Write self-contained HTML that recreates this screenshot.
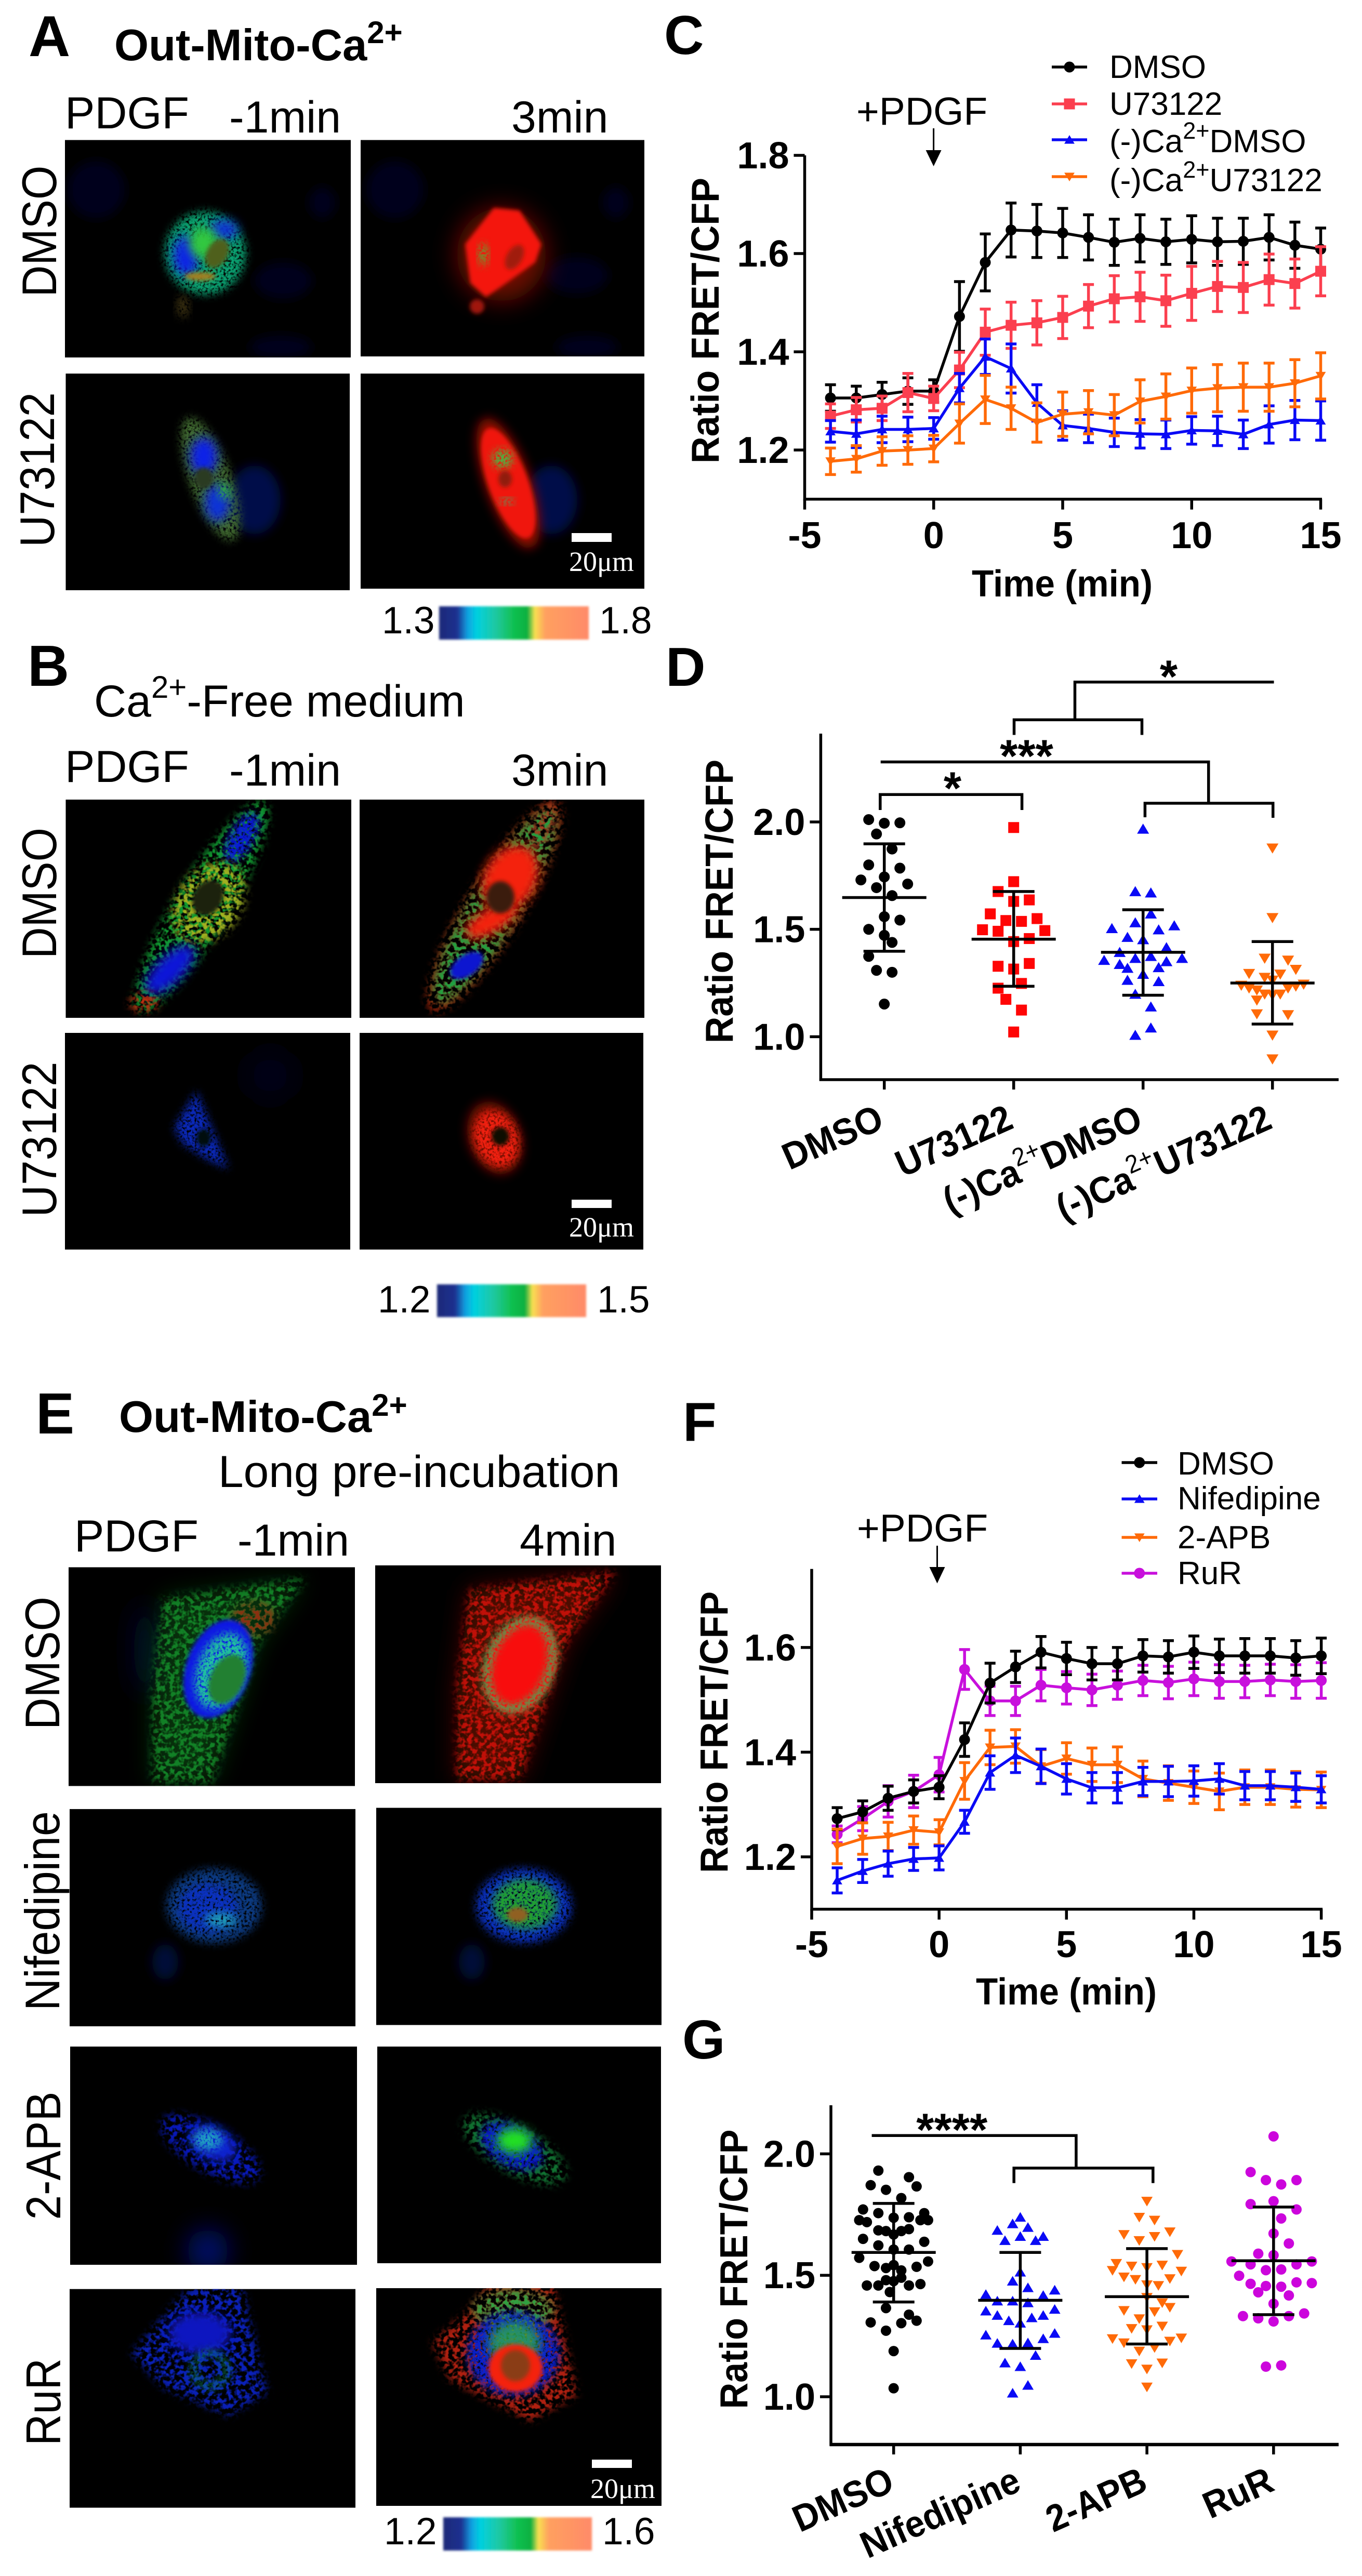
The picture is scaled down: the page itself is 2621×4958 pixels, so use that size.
<!DOCTYPE html>
<html lang="en">
<head>
<meta charset="utf-8">
<title>Out-Mito-Ca2+ FRET figure</title>
<style>
html,body{margin:0;padding:0;background:#fff}
svg#figure{display:block}
text{font-family:"Liberation Sans",sans-serif;fill:#000}
.lb{font-size:111px;font-weight:700}
.t{font-size:86px}
.rl{font-size:94px}
.tb{font-size:85px;font-weight:700}
.sb{font-family:"Liberation Serif",serif;font-size:54px;fill:#fff}
.cb{font-size:73px}
</style>
</head>
<body>
<svg id="figure" xmlns="http://www.w3.org/2000/svg" width="2621" height="4958" viewBox="0 0 2621 4958">
<defs>
<linearGradient id="cbar" x1="0" x2="1" y1="0" y2="0">
<stop offset="0" stop-color="#1c2a78"/><stop offset=".12" stop-color="#1c3090"/><stop offset=".19" stop-color="#10a0e0"/><stop offset=".25" stop-color="#00d0e0"/><stop offset=".38" stop-color="#20c8a0"/><stop offset=".5" stop-color="#10c050"/><stop offset=".59" stop-color="#10b040"/><stop offset=".64" stop-color="#f8e050"/><stop offset=".71" stop-color="#ffa060"/><stop offset="1" stop-color="#ff8a68"/>
</linearGradient>
<filter id="b2" x="-5%" y="-10%" width="110%" height="120%"><feGaussianBlur stdDeviation="2"/></filter>
<filter id="b4" x="-40%" y="-40%" width="180%" height="180%"><feGaussianBlur stdDeviation="4"/></filter>
<filter id="b10" x="-50%" y="-50%" width="200%" height="200%"><feGaussianBlur stdDeviation="10"/></filter>
<filter id="b24" x="-80%" y="-80%" width="260%" height="260%"><feGaussianBlur stdDeviation="24"/></filter>
<filter id="speck" x="-30%" y="-30%" width="160%" height="160%" color-interpolation-filters="sRGB">
<feGaussianBlur stdDeviation="8" result="b"/>
<feTurbulence type="fractalNoise" baseFrequency="0.2" numOctaves="2" seed="4" result="n"/>
<feColorMatrix in="n" type="matrix" values="0 0 0 0 0 0 0 0 0 0 0 0 0 0 0 3.4 0 0 0 -.85" result="m"/>
<feComposite in="b" in2="m" operator="in"/>
</filter>
<filter id="speck2" x="-30%" y="-30%" width="160%" height="160%" color-interpolation-filters="sRGB">
<feGaussianBlur stdDeviation="8" result="b"/>
<feTurbulence type="fractalNoise" baseFrequency="0.11" numOctaves="2" seed="11" result="n"/>
<feColorMatrix in="n" type="matrix" values="0 0 0 0 0 0 0 0 0 0 0 0 0 0 0 5 0 0 0 -2.1" result="m"/>
<feComposite in="b" in2="m" operator="in"/>
</filter>
</defs>
<rect width="2621" height="4958" fill="#fff"/>

<!-- PANEL A -->
<g>
<text class="lb" x="55" y="108">A</text>
<text class="tb" x="220" y="116">Out-Mito-Ca<tspan font-size="60" dy="-33">2+</tspan></text>
<text class="t" x="125" y="247">PDGF</text>
<text class="t" x="441" y="255">-1min</text>
<text class="t" x="984" y="255">3min</text>
<text class="rl" transform="translate(108 445) rotate(-90)" text-anchor="middle" textLength="253" lengthAdjust="spacingAndGlyphs">DMSO</text>
<text class="rl" transform="translate(104 904) rotate(-90)" text-anchor="middle" textLength="298" lengthAdjust="spacingAndGlyphs">U73122</text>

<svg x="125" y="269.5" width="550" height="418.5" viewBox="125 269.5 550 418.5">
<rect x="125" y="269.5" width="550" height="418.5" fill="#000"/>
<g filter="url(#b10)" fill="#01051e"><ellipse cx="185" cy="365" rx="55" ry="55"/><ellipse cx="620" cy="390" rx="25" ry="30"/><ellipse cx="545" cy="540" rx="55" ry="35"/><ellipse cx="540" cy="668" rx="60" ry="22"/></g>
<ellipse cx="395" cy="487" rx="78" ry="80" fill="#0aa070" filter="url(#speck)"/>
<ellipse cx="358" cy="492" rx="24" ry="38" fill="#0a20e8" filter="url(#b10)"/>
<ellipse cx="430" cy="442" rx="28" ry="18" fill="#0a30d8" filter="url(#b10)"/>
<ellipse cx="392" cy="468" rx="28" ry="30" fill="#30c840" filter="url(#b10)"/>
<ellipse cx="418" cy="488" rx="20" ry="30" transform="rotate(30 418 488)" fill="#50601c" filter="url(#b4)"/>
<ellipse cx="385" cy="532" rx="30" ry="8" fill="#a08020" filter="url(#b4)"/>
<ellipse cx="352" cy="590" rx="12" ry="22" fill="#3a3010" filter="url(#speck)"/>
</svg>
<svg x="694" y="269.5" width="546" height="416.5" viewBox="694 269.5 546 416.5">
<rect x="694" y="269.5" width="546" height="416.5" fill="#000"/>
<g filter="url(#b10)" fill="#01051e"><ellipse cx="760" cy="365" rx="55" ry="55"/><ellipse cx="1185" cy="390" rx="25" ry="30"/><ellipse cx="1110" cy="530" rx="60" ry="35"/><ellipse cx="1130" cy="668" rx="60" ry="22"/></g>
<ellipse cx="965" cy="490" rx="86" ry="90" fill="#700c06" filter="url(#b24)"/>
<polygon points="895,470 950,400 1000,405 1042,470 1030,505 960,555 935,572 905,545" fill="#f41208" filter="url(#b4)"/>
<ellipse cx="918" cy="590" rx="14" ry="14" fill="#a01808" filter="url(#b4)"/>
<ellipse cx="990" cy="495" rx="15" ry="26" transform="rotate(30 990 495)" fill="#a01c10" filter="url(#b4)"/>
<ellipse cx="930" cy="490" rx="9" ry="22" fill="#60a030" filter="url(#speck)"/>
</svg>
<svg x="126.5" y="719" width="546.5" height="417" viewBox="126.5 719 546.5 417">
<rect x="126.5" y="719" width="546.5" height="417" fill="#000"/>
<ellipse cx="490" cy="962" rx="50" ry="66" fill="#020c48" filter="url(#b10)"/>
<ellipse cx="405" cy="922" rx="40" ry="125" transform="rotate(-20 405 922)" fill="#406a30" filter="url(#speck)"/>
<ellipse cx="392" cy="878" rx="26" ry="36" fill="#0a20e8" filter="url(#b10)"/>
<ellipse cx="418" cy="968" rx="24" ry="36" fill="#0a30d8" filter="url(#b10)"/>
<ellipse cx="432" cy="945" rx="12" ry="16" fill="#30b040" filter="url(#speck)"/>
<ellipse cx="392" cy="920" rx="18" ry="20" fill="#2a3a20" filter="url(#b4)"/>
</svg>
<svg x="694" y="719" width="546" height="414" viewBox="694 719 546 414">
<rect x="694" y="719" width="546" height="414" fill="#000"/>
<ellipse cx="1061" cy="962" rx="50" ry="66" fill="#020c48" filter="url(#b10)"/>
<ellipse cx="978" cy="930" rx="44" ry="132" transform="rotate(-20 978 930)" fill="#900a05" filter="url(#b10)"/>
<ellipse cx="978" cy="930" rx="38" ry="112" transform="rotate(-20 978 930)" fill="#f01508" filter="url(#b4)"/>
<ellipse cx="967" cy="883" rx="20" ry="18" fill="#50b040" filter="url(#speck)"/>
<ellipse cx="975" cy="965" rx="14" ry="6" fill="#50a060" filter="url(#speck)"/>
<ellipse cx="972" cy="922" rx="13" ry="16" fill="#901a10" filter="url(#b4)"/>
<rect x="1100" y="1026" width="77" height="17" fill="#fff"/>
<text class="sb" x="1095" y="1099">20μm</text>
</svg>
<text class="cb" x="735" y="1219">1.3</text>
<rect x="845" y="1167" width="288" height="64" fill="url(#cbar)" filter="url(#b2)"/>
<text class="cb" x="1153" y="1219">1.8</text>
</g>

<!-- PANEL B -->
<g>
<text class="lb" x="53" y="1320">B</text>
<text class="t" x="181" y="1379">Ca<tspan font-size="60" dy="-36">2+</tspan><tspan dy="36">-Free medium</tspan></text>
<text class="t" x="125" y="1505">PDGF</text>
<text class="t" x="441" y="1512">-1min</text>
<text class="t" x="984" y="1512">3min</text>
<text class="rl" transform="translate(108 1719) rotate(-90)" text-anchor="middle" textLength="252" lengthAdjust="spacingAndGlyphs">DMSO</text>
<text class="rl" transform="translate(108 2193) rotate(-90)" text-anchor="middle" textLength="299" lengthAdjust="spacingAndGlyphs">U73122</text>

<svg x="126.5" y="1539" width="549.5" height="420" viewBox="126.5 1539 549.5 420">
<rect x="126.5" y="1539" width="549.5" height="420" fill="#000"/>
<ellipse cx="388" cy="1745" rx="52" ry="235" transform="rotate(31 388 1745)" fill="#109a30" filter="url(#speck2)"/>
<ellipse cx="327" cy="1866" rx="26" ry="62" transform="rotate(45 327 1866)" fill="#0818d8" filter="url(#b10)"/>
<ellipse cx="465" cy="1612" rx="22" ry="52" transform="rotate(30 465 1612)" fill="#0818d8" filter="url(#speck)"/>
<ellipse cx="402" cy="1738" rx="62" ry="84" transform="rotate(35 402 1738)" fill="#a0b020" filter="url(#speck2)"/>
<ellipse cx="400" cy="1728" rx="28" ry="36" transform="rotate(30 400 1728)" fill="#1c2010" filter="url(#b4)"/>
<ellipse cx="277" cy="1930" rx="28" ry="18" fill="#c03010" filter="url(#speck2)"/>
</svg>
<svg x="692" y="1539" width="548" height="420" viewBox="692 1539 548 420">
<rect x="692" y="1539" width="548" height="420" fill="#000"/>
<ellipse cx="952" cy="1745" rx="56" ry="235" transform="rotate(31 952 1745)" fill="#a02008" filter="url(#speck2)"/>
<ellipse cx="952" cy="1745" rx="48" ry="215" transform="rotate(31 952 1745)" fill="#20a040" filter="url(#speck2)"/>
<ellipse cx="982" cy="1690" rx="50" ry="68" transform="rotate(30 982 1690)" fill="#f42010" filter="url(#b10)"/>
<ellipse cx="945" cy="1772" rx="56" ry="24" transform="rotate(-30 945 1772)" fill="#f42010" filter="url(#b10)"/>
<ellipse cx="898" cy="1858" rx="20" ry="36" transform="rotate(55 898 1858)" fill="#0818d0" filter="url(#b4)"/>
<ellipse cx="963" cy="1727" rx="27" ry="31" fill="#3a1c10" filter="url(#b4)"/>
<ellipse cx="1045" cy="1590" rx="18" ry="48" transform="rotate(25 1045 1590)" fill="#a04020" filter="url(#speck2)"/>
</svg>
<svg x="125" y="1988" width="549" height="417" viewBox="125 1988 549 417">
<rect x="125" y="1988" width="549" height="417" fill="#000"/>
<ellipse cx="520" cy="2070" rx="50" ry="50" fill="#010418" filter="url(#b24)"/>
<polygon points="335,2170 378,2100 440,2250 400,2232 350,2200" fill="#0a28b8" filter="url(#speck)"/>
<ellipse cx="392" cy="2190" rx="14" ry="17" fill="#000810" filter="url(#b4)"/>
</svg>
<svg x="692" y="1988" width="546" height="417" viewBox="692 1988 546 417">
<rect x="692" y="1988" width="546" height="417" fill="#000"/>
<ellipse cx="952" cy="2190" rx="50" ry="72" transform="rotate(-20 952 2190)" fill="#700a05" filter="url(#b10)"/>
<ellipse cx="955" cy="2192" rx="42" ry="56" transform="rotate(-20 955 2192)" fill="#f02010" filter="url(#speck)"/>
<ellipse cx="963" cy="2187" rx="17" ry="18" fill="#100800" filter="url(#b4)"/>
<rect x="1100" y="2309" width="77" height="16" fill="#fff"/>
<text class="sb" x="1095" y="2380">20μm</text>
</svg>
<text class="cb" x="727" y="2526">1.2</text>
<rect x="841" y="2472" width="287" height="63" fill="url(#cbar)" filter="url(#b2)"/>
<text class="cb" x="1149" y="2526">1.5</text>
</g>

<!-- PANEL E -->
<g>
<text class="lb" x="69" y="2759">E</text>
<text class="tb" x="229" y="2756">Out-Mito-Ca<tspan font-size="60" dy="-31">2+</tspan></text>
<text class="t" x="420" y="2862" font-size="84" textLength="773" lengthAdjust="spacingAndGlyphs">Long pre-incubation</text>
<text class="t" x="143" y="2986">PDGF</text>
<text class="t" x="457" y="2994">-1min</text>
<text class="t" x="1000" y="2994">4min</text>
<text class="rl" transform="translate(114 3201) rotate(-90)" text-anchor="middle" textLength="256" lengthAdjust="spacingAndGlyphs">DMSO</text>
<text class="rl" transform="translate(114 3678) rotate(-90)" text-anchor="middle" textLength="384" lengthAdjust="spacingAndGlyphs">Nifedipine</text>
<text class="rl" transform="translate(116 4149) rotate(-90)" text-anchor="middle" textLength="247" lengthAdjust="spacingAndGlyphs">2-APB</text>
<text class="rl" transform="translate(116 4623) rotate(-90)" text-anchor="middle" textLength="168" lengthAdjust="spacingAndGlyphs">RuR</text>

<svg x="132" y="3016.5" width="551" height="421" viewBox="132 3016.5 551 421">
<rect x="132" y="3016.5" width="551" height="421" fill="#000"/>
<ellipse cx="278" cy="3175" rx="22" ry="90" fill="#010a2c" filter="url(#b24)"/>
<polygon points="314,3076 588,3038 498,3160 408,3430 294,3430 294,3252" fill="#0c5a18" filter="url(#b24)" opacity=".55"/>
<polygon points="314,3076 588,3038 498,3160 408,3430 294,3430 294,3252" fill="#128026" filter="url(#speck2)"/>
<ellipse cx="488" cy="3115" rx="42" ry="32" fill="#8a3010" filter="url(#speck2)"/>
<ellipse cx="420" cy="3212" rx="62" ry="98" transform="rotate(20 420 3212)" fill="#0818e4" filter="url(#b4)"/>
<ellipse cx="426" cy="3216" rx="47" ry="76" transform="rotate(20 426 3216)" fill="#20c0a0" filter="url(#speck)"/>
<ellipse cx="437" cy="3232" rx="32" ry="50" transform="rotate(25 437 3232)" fill="#208030" filter="url(#b4)"/>
</svg>
<svg x="722" y="3012.7" width="550" height="419.3" viewBox="722 3012.7 550 419.3">
<rect x="722" y="3012.7" width="550" height="419.3" fill="#000"/>
<polygon points="904,3060 1185,3025 1090,3160 1000,3425 880,3425 880,3250" fill="#500805" filter="url(#b24)"/>
<polygon points="904,3060 1185,3025 1090,3160 1000,3425 880,3425 880,3250" fill="#c01008" filter="url(#speck2)"/>
<ellipse cx="1002" cy="3205" rx="66" ry="96" transform="rotate(20 1002 3205)" fill="#f81008" filter="url(#b4)"/>
<ellipse cx="1000" cy="3204" rx="60" ry="88" transform="rotate(20 1000 3204)" fill="none" stroke="#30c060" stroke-width="14" filter="url(#speck)"/>
</svg>
<svg x="134" y="3481.8" width="550" height="418.2" viewBox="134 3481.8 550 418.2">
<rect x="134" y="3481.8" width="550" height="418.2" fill="#000"/>
<ellipse cx="412" cy="3668" rx="92" ry="72" fill="#0c3a80" filter="url(#speck)"/>
<ellipse cx="400" cy="3672" rx="56" ry="46" fill="#0a30c0" filter="url(#speck)"/>
<ellipse cx="425" cy="3695" rx="30" ry="14" fill="#20a0b0" filter="url(#speck)"/>
<ellipse cx="318" cy="3776" rx="25" ry="34" fill="#010a38" filter="url(#b10)"/>
</svg>
<svg x="724" y="3479.5" width="549" height="418" viewBox="724 3479.5 549 418">
<rect x="724" y="3479.5" width="549" height="418" fill="#000"/>
<ellipse cx="1008" cy="3668" rx="92" ry="72" fill="#0a30c0" filter="url(#speck)"/>
<ellipse cx="1010" cy="3665" rx="62" ry="48" fill="#20a030" filter="url(#speck)"/>
<ellipse cx="996" cy="3685" rx="20" ry="14" fill="#906020" filter="url(#b4)"/>
<ellipse cx="908" cy="3776" rx="25" ry="34" fill="#010a38" filter="url(#b10)"/>
</svg>
<svg x="135" y="3939" width="552" height="420" viewBox="135 3939 552 420">
<rect x="135" y="3939" width="552" height="420" fill="#000"/>
<ellipse cx="400" cy="4332" rx="40" ry="42" fill="#00106a" filter="url(#b24)"/>
<ellipse cx="405" cy="4136" rx="108" ry="44" transform="rotate(30 405 4136)" fill="#0818b8" filter="url(#speck2)"/>
<ellipse cx="410" cy="4125" rx="48" ry="30" transform="rotate(30 410 4125)" fill="#0a20d0" filter="url(#b10)"/>
<ellipse cx="400" cy="4118" rx="28" ry="20" fill="#20a0c0" filter="url(#speck)"/>
</svg>
<svg x="726" y="3939" width="546" height="417" viewBox="726 3939 546 417">
<rect x="726" y="3939" width="546" height="417" fill="#000"/>
<ellipse cx="990" cy="4136" rx="112" ry="46" transform="rotate(30 990 4136)" fill="#107030" filter="url(#speck2)"/>
<ellipse cx="985" cy="4130" rx="64" ry="38" transform="rotate(30 985 4130)" fill="#0818d0" filter="url(#speck)"/>
<ellipse cx="990" cy="4120" rx="34" ry="24" fill="#20e020" filter="url(#b10)"/>
</svg>
<svg x="134" y="4405.6" width="550" height="421" viewBox="134 4405.6 550 421">
<rect x="134" y="4405.6" width="550" height="421" fill="#000"/>
<polygon points="253,4530 340,4430 370,4400 465,4400 514,4605 440,4650 318,4598" fill="#0a20b8" filter="url(#speck2)"/>
<ellipse cx="385" cy="4490" rx="60" ry="40" fill="#0a18c0" filter="url(#b10)"/>
<ellipse cx="404" cy="4561" rx="32" ry="32" fill="none" stroke="#109060" stroke-width="8" filter="url(#speck)"/>
</svg>
<svg x="724" y="4404" width="549" height="419" viewBox="724 4404 549 419">
<rect x="724" y="4404" width="549" height="419" fill="#000"/>
<polygon points="832,4508 898,4450 940,4395 1065,4395 1110,4610 1020,4660 865,4580" fill="#b02010" filter="url(#speck2)"/>
<ellipse cx="988" cy="4445" rx="78" ry="38" fill="#30a040" filter="url(#speck2)"/>
<ellipse cx="988" cy="4530" rx="88" ry="80" fill="#0820d0" filter="url(#speck)"/>
<ellipse cx="990" cy="4510" rx="50" ry="42" fill="#30c040" filter="url(#b10)" opacity=".7"/>
<ellipse cx="992" cy="4558" rx="52" ry="46" fill="#f42010" filter="url(#b4)"/>
<ellipse cx="992" cy="4553" rx="28" ry="30" fill="#8a3c18" filter="url(#b4)"/>
<rect x="1139" y="4734" width="77" height="16" fill="#fff"/>
<text class="sb" x="1136" y="4808">20μm</text>
</svg>
<text class="cb" x="739" y="4897">1.2</text>
<rect x="853" y="4845" width="286" height="64" fill="url(#cbar)" filter="url(#b2)"/>
<text class="cb" x="1159" y="4897">1.6</text>
</g>

<g id="panel-c"></g>
<g id="panel-d"></g>
<g id="panel-f"></g>
<g id="panel-g"></g>
</svg>

<script>
/* ---------- shared time axis ---------- */
const timeMinutes = [-4,-3,-2,-1,0,1,2,3,4,5,6,7,8,9,10,11,12,13,14,15];
const lineXTicks = [-5,0,5,10,15];

/* ---------- panel C data ---------- */
const cYTicks = [1.2,1.4,1.6,1.8];
const cDmsoMean = [1.306,1.306,1.313,1.320,1.320,1.472,1.582,1.648,1.646,1.642,1.633,1.623,1.631,1.624,1.629,1.624,1.625,1.633,1.617,1.609];
const cDmsoErr = [.027,.024,.025,.027,.023,.071,.058,.055,.054,.050,.046,.047,.048,.046,.048,.048,.047,.046,.047,.043];
const cU73122Mean = [1.269,1.282,1.285,1.317,1.305,1.363,1.440,1.454,1.459,1.470,1.493,1.508,1.512,1.504,1.519,1.533,1.531,1.547,1.539,1.564];
const cU73122Err = [.025,.025,.025,.039,.025,.036,.047,.047,.045,.043,.044,.047,.050,.052,.055,.051,.051,.052,.050,.050];
const cCaDmsoMean = [1.238,1.233,1.242,1.242,1.244,1.326,1.390,1.366,1.296,1.250,1.244,1.236,1.233,1.232,1.240,1.239,1.232,1.252,1.261,1.260];
const cCaDmsoErr = [.022,.028,.027,.025,.022,.030,.036,.050,.037,.030,.029,.029,.029,.029,.028,.030,.029,.038,.040,.040];
const cCaU73122Mean = [1.177,1.182,1.198,1.200,1.203,1.254,1.303,1.285,1.256,1.273,1.277,1.271,1.299,1.309,1.321,1.326,1.328,1.328,1.336,1.351];
const cCaU73122Err = [.027,.027,.029,.029,.027,.040,.049,.043,.040,.045,.044,.042,.044,.046,.046,.048,.049,.049,.048,.047];

/* ---------- panel F data ---------- */
const fYTicks = [1.2,1.4,1.6];
const fDmsoMean = [1.273,1.286,1.312,1.325,1.333,1.424,1.532,1.563,1.591,1.579,1.569,1.569,1.584,1.582,1.591,1.584,1.584,1.584,1.580,1.584];
const fDmsoErr = [.021,.021,.023,.022,.022,.032,.038,.030,.030,.031,.031,.031,.031,.031,.031,.032,.033,.033,.033,.034];
const fNifedipineMean = [1.155,1.173,1.187,1.196,1.198,1.267,1.361,1.394,1.373,1.349,1.332,1.332,1.344,1.344,1.345,1.349,1.336,1.336,1.333,1.329];
const fNifedipineErr = [.024,.022,.024,.022,.023,.022,.032,.033,.033,.029,.029,.029,.027,.029,.029,.029,.027,.027,.027,.026];
const fApbMean = [1.220,1.235,1.239,1.251,1.247,1.345,1.409,1.411,1.373,1.388,1.376,1.376,1.349,1.341,1.333,1.325,1.333,1.333,1.329,1.328];
const fApbErr = [.033,.030,.027,.027,.024,.035,.033,.032,.032,.030,.032,.034,.034,.033,.031,.035,.033,.033,.034,.034];
const fRurMean = [1.243,1.273,1.306,1.325,1.357,1.558,1.498,1.498,1.528,1.523,1.519,1.528,1.537,1.533,1.540,1.535,1.535,1.538,1.535,1.537];
const fRurErr = [.016,.023,.030,.031,.033,.038,.028,.028,.030,.031,.030,.027,.029,.031,.032,.032,.031,.030,.032,.034];

/* ---------- panel D data: each inner array is one swarm column of values ---------- */
const scatterYTicks = [1.0,1.5,2.0];
const dCategories = [['DMSO'],['U73122'],['(-)Ca','2+','DMSO'],['(-)Ca','2+','U73122']];
const dDmsoColumns = [[1.730],[2.011,1.800,1.500,1.374],[1.944,1.694,1.309],[1.994,1.744,1.559,1.472,1.152],[1.874,1.657,1.439,1.300],[1.996,1.785,1.543],[1.711]];
const dU73122Columns = [[1.498],[1.572],[1.676,1.491,1.328,1.226],[1.541,1.174],[1.974,1.722,1.630,1.443,1.315,1.022],[1.537,1.248,1.124],[1.637,1.457,1.341],[1.550],[1.494]];
const dCaDmsoColumns = [[1.356],[1.504],[1.393,1.337],[1.463,1.319,1.263],[1.676,1.531,1.365,1.198,1.007],[1.967,1.452,1.291],[1.670,1.572,1.374,1.139,1.041],[1.498,1.322,1.257],[1.415,1.350],[1.517],[1.365]];
const dCaU73122Columns = [[1.239],[1.226,1.294],[1.217,1.170,1.106],[1.365,1.276,1.198],[1.878,1.554,1.263,1.194,1.007,0.896],[1.291,1.198],[1.356,1.226,1.102],[1.313,1.235],[1.244]];
const dMeans = [1.648,1.454,1.393,1.250];
const dSdUpper = [1.898,1.676,1.591,1.443];
const dSdLower = [1.398,1.235,1.193,1.059];

/* ---------- panel G data ---------- */
const gCategories = [['DMSO'],['Nifedipine'],['2-APB'],['RuR']];
const gDmsoColumns = [[1.727,1.572],[1.771,1.650],[1.719,1.458],[1.871,1.306],[1.538],[1.931,1.756,1.685,1.623,1.458],[],[1.852,1.682,1.530,1.480,1.365,1.272],[1.431],[1.737,1.668,1.606,1.542,1.476,1.188,1.035],[],[1.818,1.682,1.520,1.490,1.303],[],[1.904,1.739,1.690,1.606,1.458,1.338],[],[1.866,1.535,1.313],[1.727,1.464],[1.756,1.638],[1.727,1.557]];
const gNifedipineColumns = [[1.421,1.353,1.254],[],[],[1.685,1.394,1.335,1.220],[],[1.643,1.139],[1.313],[1.712,1.476,1.394,1.217,1.015],[],[1.739,1.660,1.513,1.303,1.124],[],[1.697,1.449,1.387,1.222,1.047],[1.325],[1.643,1.170],[],[1.660,1.417,1.335,1.239],[],[],[1.439,1.360,1.261]];
const gApbColumns = [[1.520,1.239],[1.549],[],[1.668,1.493,1.355,1.222],[],[1.538,1.281,1.136],[1.483],[1.739,1.643,1.321,1.188],[],[1.805,1.532,1.461,1.409,1.276,1.114,1.040],[],[1.727,1.660,1.350,1.202],[1.458],[1.542,1.387,1.291,1.139],[],[1.679,1.486,1.368,1.229],[],[1.586],[1.517,1.242]];
const gRurColumns = [[1.557],[],[1.498],[1.332],[],[1.925,1.793,1.545,1.465],[],[1.589,1.430,1.323],[],[1.892,1.521,1.456,1.124],[],[2.072,1.805,1.672,1.583,1.383,1.310],[],[1.874,1.734,1.524,1.453,1.129],[],[1.631,1.417,1.332],[],[1.892,1.771,1.545,1.471],[],[1.343],[],[1.557,1.468],[]];
const gMeans = [1.594,1.397,1.412,1.560];
const gSdUpper = [1.796,1.594,1.610,1.781];
const gSdLower = [1.390,1.199,1.217,1.338];

/* ---------- helpers ---------- */
const NS = 'http://www.w3.org/2000/svg';
const LINE_W = 5.5;
function add(parent, tag, name) {
  const el = document.createElementNS(NS, tag);
  
  
  parent.appendChild(el);
  return el;
}
function seg(parent, name, x1, y1, x2, y2, color, w) {
  const el = add(parent, 'line', name);
  el.setAttribute('x1', x1); el.setAttribute('y1', y1);
  el.setAttribute('x2', x2); el.setAttribute('y2', y2);
  el.setAttribute('stroke', color); el.setAttribute('stroke-width', w);
  return el;
}
function poly(parent, name, pts, color, w) {
  const el = add(parent, 'polyline', name);
  el.setAttribute('points', pts.map(p => p[0].toFixed(1) + ',' + p[1].toFixed(1)).join(' '));
  el.setAttribute('fill', 'none');
  el.setAttribute('stroke', color); el.setAttribute('stroke-width', w);
  el.setAttribute('stroke-linejoin', 'miter');
  return el;
}
function label(parent, name, str, x, y, size, weight, anchor) {
  const el = add(parent, 'text', name);
  el.setAttribute('x', x); el.setAttribute('y', y);
  el.setAttribute('font-size', size);
  el.setAttribute('font-weight', weight);
  el.setAttribute('text-anchor', anchor);
  el.textContent = str;
  return el;
}
function marker(parent, name, kind, x, y, s, color) {
  let el;
  if (kind === 'circle') {
    el = add(parent, 'circle', name);
    el.setAttribute('cx', x); el.setAttribute('cy', y); el.setAttribute('r', s);
  } else if (kind === 'square') {
    el = add(parent, 'rect', name);
    el.setAttribute('x', x - s); el.setAttribute('y', y - s);
    el.setAttribute('width', 2 * s); el.setAttribute('height', 2 * s);
  } else {
    const d = kind === 'up' ? 1 : -1;
    el = add(parent, 'polygon', name);
    el.setAttribute('points', [x, y - d * s, x - s * 1.1, y + d * s * .85, x + s * 1.1, y + d * s * .85].join(' '));
  }
  el.setAttribute('fill', color);
  return el;
}
function linear(d0, d1, r0, r1) { return v => r0 + (v - d0) * (r1 - r0) / (d1 - d0); }
function subLabel(parent, name, parts, x, y, size, anchor) {
  const el = label(parent, name, '', x, y, size, 700, anchor);
  if (parts.length === 1) { el.textContent = parts[0]; return el; }
  const a = add(el, 'tspan', name + '-prefix'); a.textContent = parts[0];
  const b = add(el, 'tspan', name + '-superscript'); b.textContent = parts[1];
  b.setAttribute('dy', -size * .42); b.setAttribute('font-size', size * .68); b.setAttribute('font-weight', 400);
  const c = add(el, 'tspan', name + '-suffix'); c.textContent = parts[2];
  c.setAttribute('dy', size * .42);
  return el;
}
function rotatedYTitle(parent, x, cy, length, size) {
  const el = label(parent, 'y-axis-title', 'Ratio FRET/CFP', 0, 0, size, 700, 'middle');
  el.setAttribute('transform', 'translate(' + x + ' ' + cy + ') rotate(-90)');
  el.setAttribute('textLength', length);
  el.setAttribute('lengthAdjust', 'spacingAndGlyphs');
  return el;
}
function yAxis(g, x, yScale, top, bottom, ticks) {
  seg(g, 'y-axis-line', x, top, x, bottom + 2.5, '#000', LINE_W);
  ticks.forEach(t => {
    seg(g, 'y-tick', x - 21, yScale(t), x, yScale(t), '#000', LINE_W);
    label(g, 'y-tick-label', t.toFixed(1), x - 30, yScale(t) + 25, 72, 700, 'end');
  });
}

/* ---------- time-course chart ---------- */
function lineChart(cfg) {
  const g = document.getElementById(cfg.id);
  const x = linear(-5, 15, cfg.x0, cfg.x1);
  const y = linear(cfg.dom[0], cfg.dom[1], cfg.bottom, cfg.top);
  label(g, 'panel-letter', cfg.letter, cfg.letterX, cfg.letterY, 106, 700, 'start');
  rotatedYTitle(g, cfg.titleX, cfg.titleY, cfg.titleLen, 75);
  yAxis(g, cfg.x0, y, cfg.top, cfg.bottom, cfg.yTicks);
  seg(g, 'x-axis-line', cfg.x0 - 2.5, cfg.bottom, cfg.x1 + 2.5, cfg.bottom, '#000', LINE_W);
  lineXTicks.forEach(t => {
    seg(g, 'x-tick', x(t), cfg.bottom, x(t), cfg.bottom + 20, '#000', LINE_W);
    label(g, 'x-tick-label', String(t), x(t), cfg.xLabelY, 72, 700, 'middle');
  });
  const xt = label(g, 'x-axis-title', 'Time (min)', cfg.timeX, cfg.timeY, 72, 700, 'middle');
  xt.setAttribute('textLength', 348);
  xt.setAttribute('lengthAdjust', 'spacingAndGlyphs');
  label(g, 'pdgf-label', '+PDGF', cfg.pdgfX, cfg.pdgfY, 75, 400, 'start');
  seg(g, 'pdgf-arrow-shaft', cfg.arrowX, cfg.arrowTop, cfg.arrowX, cfg.arrowHead, '#000', 3);
  const head = add(g, 'polygon', 'pdgf-arrow-head');
  head.setAttribute('points', [cfg.arrowX - 15, cfg.arrowHead, cfg.arrowX + 15, cfg.arrowHead, cfg.arrowX, cfg.arrowTip].join(' '));
  cfg.series.forEach(s => {
    const sg = add(g, 'g', 'series-' + s.key);
    const size = s.kind === 'circle' ? 10.5 : (s.kind === 'square' ? 10.5 : 9);
    timeMinutes.forEach((t, i) => {
      const xx = x(t);
      const hi = y(s.mean[i] + s.err[i]), lo = y(s.mean[i] - s.err[i]);
      seg(sg, 'error-bar', xx, hi, xx, lo, s.color, LINE_W);
      seg(sg, 'error-cap', xx - 10.5, hi, xx + 10.5, hi, s.color, LINE_W);
      seg(sg, 'error-cap', xx - 10.5, lo, xx + 10.5, lo, s.color, LINE_W);
    });
    poly(sg, 'line', timeMinutes.map((t, i) => [x(t), y(s.mean[i])]), s.color, LINE_W);
    timeMinutes.forEach((t, i) => { marker(sg, 'point', s.kind, x(t), y(s.mean[i]), size, s.color); });
    const lg = add(g, 'g', 'legend-entry-' + s.key);
    const ly = cfg.legendLineY[s.slot];
    seg(lg, 'legend-line', cfg.legendX0, ly, cfg.legendX1, ly, s.color, LINE_W);
    marker(lg, 'legend-marker', s.kind, (cfg.legendX0 + cfg.legendX1) / 2, ly, size, s.color);
    const tx = label(lg, 'legend-label', '', cfg.legendTextX, cfg.legendTextY[s.slot], 62, 400, 'start');
    if (s.parts.length === 1) { tx.textContent = s.parts[0]; }
    else {
      const a = add(tx, 'tspan', 'legend-prefix'); a.textContent = s.parts[0];
      const b = add(tx, 'tspan', 'legend-superscript'); b.textContent = s.parts[1];
      b.setAttribute('dy', -26); b.setAttribute('font-size', 45);
      const c = add(tx, 'tspan', 'legend-suffix'); c.textContent = s.parts[2];
      c.setAttribute('dy', 26);
    }
  });
}

lineChart({
  id: 'panel-c', letter: 'C', letterX: 1278, letterY: 104,
  x0: 1548.5, x1: 2541.5, top: 299, bottom: 960.7, dom: [1.1, 1.8],
  yTicks: cYTicks, xLabelY: 1055,
  titleX: 1383, titleY: 617, titleLen: 550, timeX: 2044, timeY: 1148,
  pdgfX: 1648, pdgfY: 240, arrowX: 1796.6, arrowTop: 247, arrowHead: 289, arrowTip: 320,
  legendX0: 2024, legendX1: 2092, legendTextX: 2135,
  legendLineY: [129, 200, 269, 340], legendTextY: [150, 221, 293, 368],
  series: [
    { key: 'dmso', slot: 0, mean: cDmsoMean, err: cDmsoErr, color: '#000000', kind: 'circle', parts: ['DMSO'] },
    { key: 'u73122', slot: 1, mean: cU73122Mean, err: cU73122Err, color: '#fb3f4f', kind: 'square', parts: ['U73122'] },
    { key: 'ca-free-dmso', slot: 2, mean: cCaDmsoMean, err: cCaDmsoErr, color: '#0a0af5', kind: 'up', parts: ['(-)Ca', '2+', 'DMSO'] },
    { key: 'ca-free-u73122', slot: 3, mean: cCaU73122Mean, err: cCaU73122Err, color: '#ff6a08', kind: 'down', parts: ['(-)Ca', '2+', 'U73122'] }
  ]
});

lineChart({
  id: 'panel-f', letter: 'F', letterX: 1314, letterY: 2773,
  x0: 1562, x1: 2542.6, top: 3019.8, bottom: 3674.6, dom: [1.1, 1.75],
  yTicks: fYTicks, xLabelY: 3767,
  titleX: 1400, titleY: 3334, titleLen: 542, timeX: 2052, timeY: 3858,
  pdgfX: 1649, pdgfY: 2967, arrowX: 1803.5, arrowTop: 2975, arrowHead: 3016, arrowTip: 3047.5,
  legendX0: 2158.5, legendX1: 2227, legendTextX: 2266,
  legendLineY: [2815, 2885, 2959, 3028], legendTextY: [2838, 2905, 2980, 3049],
  series: [
    { key: 'rur', slot: 3, mean: fRurMean, err: fRurErr, color: '#c810dc', kind: 'circle', parts: ['RuR'] },
    { key: 'dmso', slot: 0, mean: fDmsoMean, err: fDmsoErr, color: '#000000', kind: 'circle', parts: ['DMSO'] },
    { key: '2-apb', slot: 2, mean: fApbMean, err: fApbErr, color: '#ff6a08', kind: 'down', parts: ['2-APB'] },
    { key: 'nifedipine', slot: 1, mean: fNifedipineMean, err: fNifedipineErr, color: '#0a0af5', kind: 'up', parts: ['Nifedipine'] }
  ]
});

/* ---------- scatter chart ---------- */
function scatterChart(cfg) {
  const g = document.getElementById(cfg.id);
  const y = linear(cfg.dom[0], cfg.dom[1], cfg.bottom, cfg.top);
  label(g, 'panel-letter', cfg.letter, cfg.letterX, cfg.letterY, 106, 700, 'start');
  rotatedYTitle(g, cfg.titleX, cfg.titleY, cfg.titleLen, 75);
  yAxis(g, cfg.x0, y, cfg.top, cfg.bottom, scatterYTicks);
  seg(g, 'x-axis-line', cfg.x0 - 2.5, cfg.bottom, cfg.x1, cfg.bottom, '#000', cfg.axisW);
  cfg.groups.forEach((grp, i) => {
    const cx = cfg.catX0 + i * cfg.catStep;
    seg(g, 'x-tick', cx, cfg.bottom, cx, cfg.bottom + 19, '#000', LINE_W);
    const sg = add(g, 'g', 'group-' + grp.key);
    const mid = (grp.columns.length - 1) / 2;
    grp.columns.forEach((col, c) => {
      col.forEach(v => { marker(sg, 'data-point', grp.kind, cx + (c - mid) * cfg.swarmStep, y(v), cfg.r, grp.color); });
    });
    seg(sg, 'mean-line', cx - 81, y(cfg.means[i]), cx + 81, y(cfg.means[i]), '#000', LINE_W);
    seg(sg, 'sd-line', cx, y(cfg.upper[i]), cx, y(cfg.lower[i]), '#000', LINE_W);
    seg(sg, 'sd-cap-upper', cx - 40, y(cfg.upper[i]), cx + 40, y(cfg.upper[i]), '#000', LINE_W);
    seg(sg, 'sd-cap-lower', cx - 40, y(cfg.lower[i]), cx + 40, y(cfg.lower[i]), '#000', LINE_W);
    const lab = subLabel(g, 'category-label', cfg.categories[i], 0, 0, cfg.catSize, 'end');
    lab.setAttribute('transform', 'translate(' + (cx + cfg.catDX) + ' ' + cfg.catY + ') rotate(-24) scale(.94 1)');
  });
  cfg.brackets.forEach(pts => { poly(g, 'significance-bracket', pts, '#000', LINE_W); });
  cfg.stars.forEach(s => { label(g, 'significance-stars', s[0], s[1], s[2], 88, 700, 'middle'); });
}

scatterChart({
  id: 'panel-d', letter: 'D', letterX: 1281, letterY: 1320,
  x0: 1579.4, x1: 2576, top: 1412, bottom: 2078, axisW: 5.5, dom: [0.8, 2.4113],
  titleX: 1410, titleY: 1735, titleLen: 546,
  catX0: 1701.7, catStep: 249, catDX: 3, catY: 2170, catSize: 72,
  swarmStep: 15, r: 10.5, categories: dCategories,
  means: dMeans, upper: dSdUpper, lower: dSdLower,
  groups: [
    { key: 'dmso', columns: dDmsoColumns, kind: 'circle', color: '#000000' },
    { key: 'u73122', columns: dU73122Columns, kind: 'square', color: '#ff0505' },
    { key: 'ca-free-dmso', columns: dCaDmsoColumns, kind: 'up', color: '#0a0af5' },
    { key: 'ca-free-u73122', columns: dCaU73122Columns, kind: 'down', color: '#ff6a08' }
  ],
  brackets: [
    [[2068.5, 1385], [2068.5, 1312.7], [2451.5, 1312.7]],
    [[1951.5, 1414.5], [1951.5, 1385.4], [2197.5, 1385.4], [2197.5, 1414.5]],
    [[1694.7, 1466.5], [2325.7, 1466.5], [2325.7, 1546]],
    [[2203.4, 1573], [2203.4, 1546], [2449.7, 1546], [2449.7, 1574]],
    [[1693.8, 1559], [1693.8, 1529.3], [1966.6, 1529.3], [1966.6, 1559]]
  ],
  stars: [['*', 2249, 1332], ['***', 1975.5, 1485], ['*', 1833, 1547]]
});

scatterChart({
  id: 'panel-g', letter: 'G', letterX: 1313, letterY: 3962,
  x0: 1599, x1: 2576, top: 4052, bottom: 4705, axisW: 6.5, dom: [0.8032, 2.2],
  titleX: 1438, titleY: 4367.5, titleLen: 538,
  catX0: 1719.7, catStep: 243.7, catDX: 5, catY: 4792, catSize: 72,
  swarmStep: 7.36, r: 10, categories: gCategories,
  means: gMeans, upper: gSdUpper, lower: gSdLower,
  groups: [
    { key: 'dmso', columns: gDmsoColumns, kind: 'circle', color: '#000000' },
    { key: 'nifedipine', columns: gNifedipineColumns, kind: 'up', color: '#0a0af5' },
    { key: '2-apb', columns: gApbColumns, kind: 'down', color: '#ff6a08' },
    { key: 'rur', columns: gRurColumns, kind: 'circle', color: '#cc05dc' }
  ],
  brackets: [
    [[1677.6, 4110.3], [2070.9, 4110.3], [2070.9, 4172.9]],
    [[1951.2, 4201.8], [1951.2, 4172.9], [2218.8, 4172.9], [2218.8, 4201.8]]
  ],
  stars: [['****', 1831.7, 4129]]
});
</script>
</body>
</html>
